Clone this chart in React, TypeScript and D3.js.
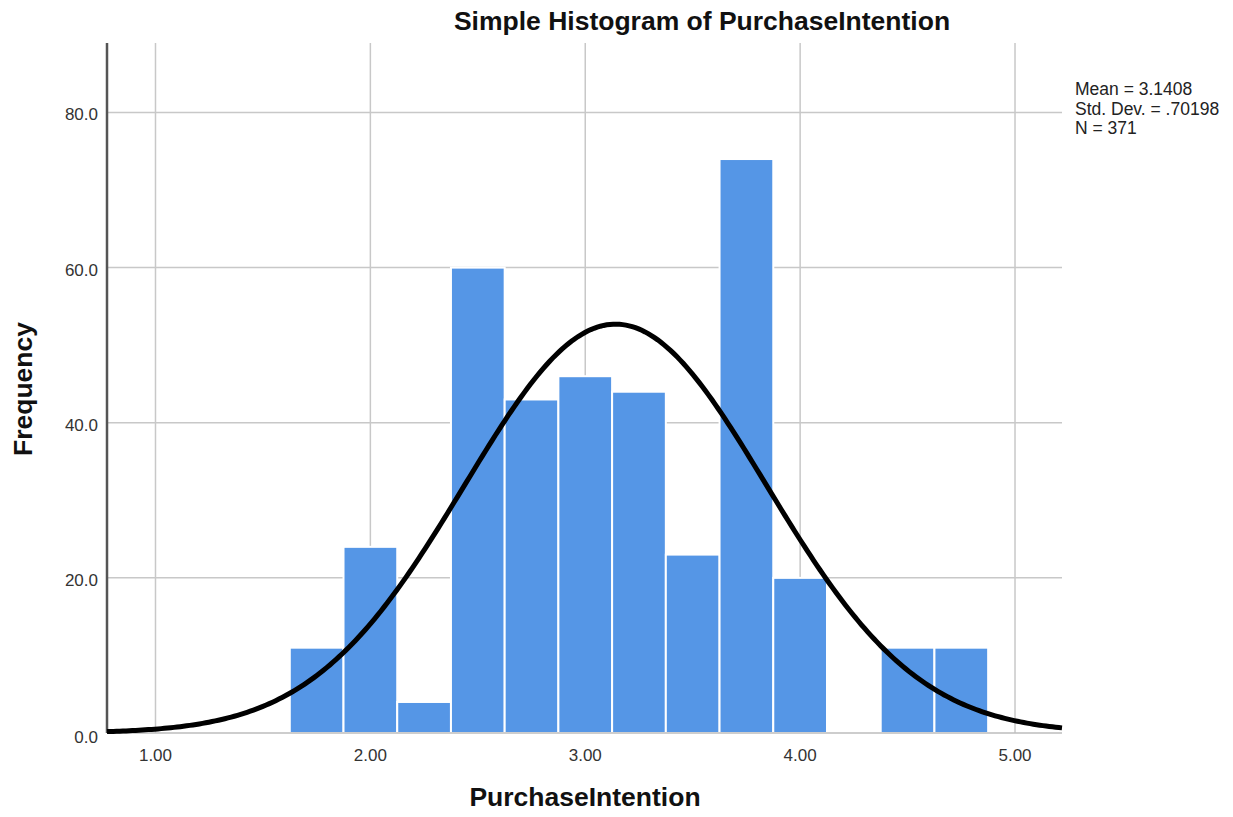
import { useEffect, useMemo } from 'react';
import * as d3 from 'd3';

// bins of PurchaseIntention (left edge) and their counts
const binStarts = [1.625, 1.875, 2.125, 2.375, 2.625, 2.875, 3.125, 3.375, 3.625, 3.875, 4.125, 4.375, 4.625];
const binWidth = 0.25;
const counts = [11, 24, 4, 60, 43, 46, 44, 23, 74, 20, 0, 11, 11];

const xTicks = [1, 2, 3, 4, 5];
const yTicks = [0, 20, 40, 60, 80];

const mean = 3.1408;
const stdDev = 0.70198;
const n = 371;
const statLines = ['Mean = 3.1408', 'Std. Dev. = .70198', 'N = 371'];

const W = 1233;
const H = 817;
const left = 107;
const right = 1062;
const top = 43;
const bottom = 733;

const font = 'Arial, "Liberation Sans", sans-serif';

export default function App() {
    useEffect(() => {
        document.body.style.margin = '0';
    }, []);

    const x = useMemo(() => d3.scaleLinear().domain([0.7743, 5.2187]).range([left, right]), []);
    const y = useMemo(() => d3.scaleLinear().domain([0, 88.96]).range([bottom, top]), []);

    // normal curve drawn from the reported mean / sd, scaled to counts
    const curveD = useMemo(() => {
        const [x0, x1] = x.domain();
        const pts = d3.range(0, 301).map((i) => x0 + (x1 - x0) * i / 300);
        const scale = n * binWidth / (stdDev * Math.sqrt(2 * Math.PI));
        const line = d3.line<number>()
            .x((v) => x(v))
            .y((v) => y(scale * Math.exp(-0.5 * ((v - mean) / stdDev) ** 2)));
        return line(pts) || '';
    }, [x, y]);

    return (
        <svg width={W} height={H} style={{ display: 'block', background: 'white' }}>
            {/* grid */}
            <g stroke="#c8c8c8" strokeWidth={1.5}>
                {xTicks.map((t) => (
                    <line key={'gx' + t} x1={x(t)} x2={x(t)} y1={top} y2={bottom} />
                ))}
                {yTicks.filter((t) => t > 0).map((t) => (
                    <line key={'gy' + t} x1={left} x2={right} y1={y(t)} y2={y(t)} />
                ))}
            </g>

            {/* bars */}
            <g fill="#5596e6" stroke="white" strokeWidth={2}>
                {counts.map((c, i) => c > 0 && (
                    <rect
                        key={i}
                        x={x(binStarts[i])}
                        y={y(c)}
                        width={x(binStarts[i] + binWidth) - x(binStarts[i])}
                        height={y(0) - y(c)}
                    />
                ))}
            </g>

            {/* axes */}
            <line x1={left} x2={right} y1={bottom} y2={bottom} stroke="#bdbdbd" strokeWidth={1.5} />
            <line x1={left} x2={left} y1={top} y2={bottom} stroke="#555" strokeWidth={2.5} />

            {/* normal curve */}
            <path d={curveD} fill="none" stroke="black" strokeWidth={5} />

            {/* tick labels */}
            <g fontFamily={font} fontSize={17} fill="#333">
                {yTicks.map((t) => (
                    <text key={'ty' + t} x={98} y={y(t) + (t === 0 ? 10 : 8)} textAnchor="end">{t.toFixed(1)}</text>
                ))}
                {xTicks.map((t) => (
                    <text key={'tx' + t} x={x(t)} y={761} textAnchor="middle">{t.toFixed(2)}</text>
                ))}
            </g>

            {/* stats */}
            <g fontFamily={font} fontSize={17.5} fill="#222">
                {statLines.map((s, i) => (
                    <text key={s} x={1075} y={95 + i * 19.5}>{s}</text>
                ))}
            </g>

            {/* titles */}
            <text x={702} y={30} textAnchor="middle" fontFamily={font} fontSize={26.5} fontWeight="bold" fill="#111">
                Simple Histogram of PurchaseIntention
            </text>
            <text x={585} y={806} textAnchor="middle" fontFamily={font} fontSize={26.5} fontWeight="bold" fill="#111">
                PurchaseIntention
            </text>
            <text transform="translate(32, 389) rotate(-90)" textAnchor="middle" fontFamily={font} fontSize={26.5} fontWeight="bold" fill="#111">
                Frequency
            </text>
        </svg>
    );
}
